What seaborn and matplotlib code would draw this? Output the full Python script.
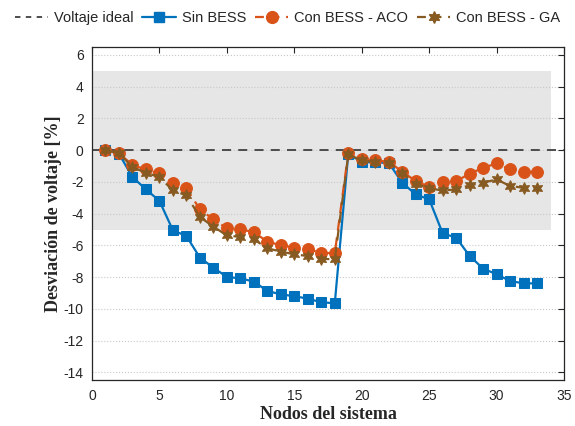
import numpy as np
import pandas as pd
import matplotlib
matplotlib.use('Agg')
import matplotlib.pyplot as plt
from matplotlib.patches import Rectangle
from matplotlib.lines import Line2D
import seaborn as sns

# =========================
# Data
# =========================
nodos = list(range(1, 34))

sin_bess = [0.0, -0.23, -1.7, -2.47, -3.2, -5.05, -5.41, -6.77, -7.4, -7.99,
            -8.07, -8.28, -8.87, -9.08, -9.2, -9.35, -9.58, -9.64,
            -0.23, -0.75, -0.78, -0.8, -2.05, -2.79, -3.1, -5.24, -5.51,
            -6.67, -7.46, -7.82, -8.24, -8.39, -8.39]

con_aco = [0.0, -0.2, -0.94, -1.22, -1.47, -2.05, -2.41, -3.73, -4.36, -4.93,
           -4.99, -5.16, -5.77, -5.98, -6.14, -6.24, -6.46, -6.5,
           -0.17, -0.59, -0.65, -0.73, -1.36, -1.95, -2.31, -1.99, -1.95,
           -1.49, -1.11, -0.84, -1.22, -1.36, -1.36]

con_ga = [0.0, -0.2, -1.07, -1.43, -1.7, -2.54, -2.85, -4.21, -4.82, -5.37,
          -5.47, -5.62, -6.18, -6.39, -6.56, -6.67, -6.84, -6.88,
          -0.27, -0.65, -0.73, -0.8, -1.47, -2.12, -2.41, -2.54, -2.48,
          -2.22, -2.05, -1.85, -2.26, -2.37, -2.37]

banda_lim = 5      # +/- 5 % permitted band
banda_x_max = 34

df = pd.DataFrame({'Nodo': nodos, 'Sin BESS': sin_bess,
                   'Con BESS - ACO': con_aco, 'Con BESS - GA': con_ga})

# =========================
# Style
# =========================
sns.set_style('white')
plt.rcParams['font.family'] = ['Liberation Sans', 'DejaVu Sans']
plt.rcParams['xtick.direction'] = 'in'
plt.rcParams['ytick.direction'] = 'in'
plt.rcParams['axes.unicode_minus'] = False

azul = '#0072BD'
naranja = '#D95319'
marron = '#875A22'
hexagram = (6, 1, 0)

fig = plt.figure(figsize=(5.75, 4.26), dpi=100)
ax = fig.add_axes([0.16, 0.107, 0.821, 0.783])

ax.add_patch(Rectangle((0, -banda_lim), banda_x_max, 2 * banda_lim,
                       facecolor='#e6e6e6', edgecolor='none', zorder=0))
ax.plot([0, 35], [0, 0], linestyle=(0, (5, 4)), color='#404040', lw=1.3, zorder=1)

sns.lineplot(data=df, x='Nodo', y='Sin BESS', ax=ax, color=azul, lw=1.6,
             marker='s', markersize=7.5, markeredgecolor=azul, zorder=3)
sns.lineplot(data=df, x='Nodo', y='Con BESS - ACO', ax=ax, color=naranja, lw=1.6,
             linestyle=(0, (5, 3)), marker='o', markersize=8.5,
             markeredgecolor=naranja, zorder=4)
sns.lineplot(data=df, x='Nodo', y='Con BESS - GA', ax=ax, color=marron, lw=1.6,
             linestyle=(0, (5, 3)), marker=hexagram, markersize=8.5,
             markeredgecolor=marron, zorder=5)

ax.set_xlim(0, 35)
ax.set_ylim(-14.5, 6.5)
ax.set_xticks(np.arange(0, 36, 5))
ax.set_yticks(np.arange(-14, 7, 2))
ax.tick_params(top=True, right=True, length=4, width=0.8, labelsize=10,
               colors='#262626', pad=6)
ax.yaxis.grid(True, linestyle=':', color='#c8c8c8', lw=0.8)
ax.set_axisbelow(True)
for s in ax.spines.values():
    s.set_color('#262626')
    s.set_linewidth(0.9)

ax.set_xlabel('Nodos del sistema', family='Liberation Serif', fontweight='bold',
              fontsize=13, labelpad=2)
ax.set_ylabel('Desviación de voltaje [%]', family='Liberation Serif',
              fontweight='bold', fontsize=13, labelpad=1)

handles = [
    Line2D([], [], color='#404040', linestyle=(0, (3, 3)), lw=1.3),
    Line2D([], [], color=azul, lw=1.6, marker='s', markersize=7.5),
    Line2D([], [], color=naranja, lw=1.6, linestyle=(0, (4, 3)), marker='o', markersize=8.5),
    Line2D([], [], color=marron, lw=1.6, linestyle=(0, (4, 3)), marker=hexagram, markersize=8.5),
]
labels = ['Voltaje ideal', 'Sin BESS', 'Con BESS - ACO', 'Con BESS - GA']
fig.legend(handles, labels, loc='center', bbox_to_anchor=(0.5, 0.958), ncol=4,
           frameon=False, fontsize=10.5, handlelength=2.3, handletextpad=0.4,
           columnspacing=0.6, borderpad=0.2)

fig.savefig('out.png', dpi=100)
